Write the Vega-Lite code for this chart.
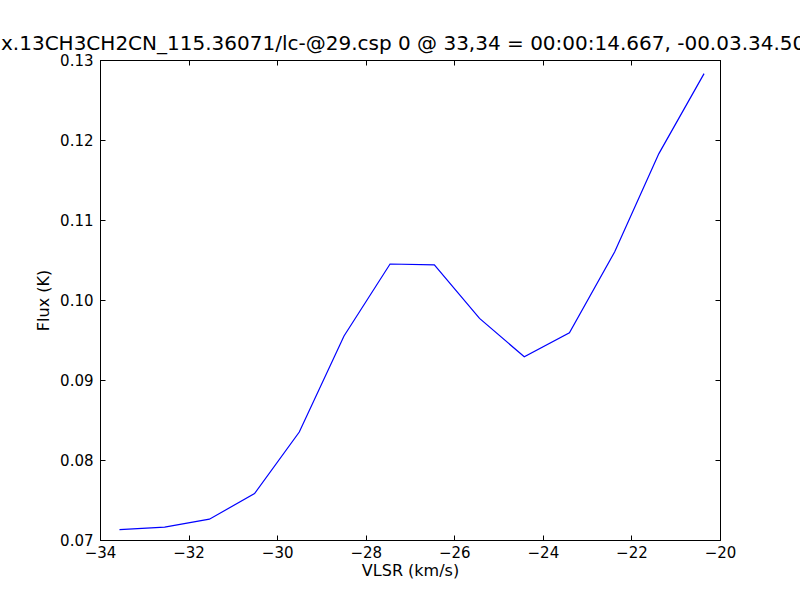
{
  "$schema": "https://vega.github.io/schema/vega-lite/v6.json",
  "width": 620,
  "height": 480,
  "autosize": {"type": "none"},
  "padding": {"left": 100, "top": 60, "right": 80, "bottom": 60},
  "background": "white",
  "config": {
    "font": "DejaVu Sans",
    "view": {"stroke": "black", "strokeWidth": 1},
    "axis": {
      "grid": false,
      "domainColor": "black",
      "tickColor": "black",
      "labelColor": "black",
      "titleColor": "black",
      "labelFont": "DejaVu Sans",
      "titleFont": "DejaVu Sans",
      "labelFontSize": 15,
      "titleFontSize": 16,
      "titleFontWeight": "normal",
      "tickSize": -5
    }
  },
  "title": {
    "text": "x.13CH3CH2CN_115.36071/lc-@29.csp 0 @ 33,34 = 00:00:14.667, -00.03.34.50",
    "anchor": "start",
    "frame": "group",
    "dx": -99,
    "fontSize": 20,
    "fontWeight": "normal",
    "font": "DejaVu Sans",
    "color": "black",
    "offset": -1
  },
  "data": {
    "values": [
      {"v": -33.56, "flux": 0.0713},
      {"v": -32.54, "flux": 0.0716},
      {"v": -31.53, "flux": 0.0726},
      {"v": -30.51, "flux": 0.0758},
      {"v": -29.50, "flux": 0.0835},
      {"v": -28.49, "flux": 0.0955},
      {"v": -27.45, "flux": 0.1045},
      {"v": -26.45, "flux": 0.1044},
      {"v": -25.43, "flux": 0.0977},
      {"v": -24.42, "flux": 0.0929},
      {"v": -23.40, "flux": 0.0959},
      {"v": -22.38, "flux": 0.1060},
      {"v": -21.38, "flux": 0.1183},
      {"v": -20.36, "flux": 0.1283}
    ]
  },
  "layer": [
    {
      "mark": {"type": "line", "color": "#0000ff", "strokeWidth": 1.2},
      "encoding": {
        "x": {
          "field": "v", "type": "quantitative",
          "scale": {"domain": [-34, -20], "nice": false, "zero": false},
          "axis": {"values": [-34, -32, -30, -28, -26, -24, -22, -20], "title": "VLSR (km/s)", "labelPadding": 10, "titlePadding": 2, "labelFlush": false}
        },
        "y": {
          "field": "flux", "type": "quantitative",
          "scale": {"domain": [0.07, 0.13], "nice": false, "zero": false},
          "axis": {"values": [0.07, 0.08, 0.09, 0.10, 0.11, 0.12, 0.13], "format": ".2f", "title": "Flux (K)", "labelPadding": 12, "titlePadding": 8, "labelFlush": false}
        }
      }
    },
    {
      "mark": {"type": "line", "opacity": 0},
      "encoding": {
        "x": {
          "field": "v", "type": "quantitative",
          "scale": {"domain": [-34, -20], "nice": false, "zero": false},
          "axis": {"orient": "top", "values": [-34, -32, -30, -28, -26, -24, -22, -20], "labels": false, "title": null}
        },
        "y": {
          "field": "flux", "type": "quantitative",
          "scale": {"domain": [0.07, 0.13], "nice": false, "zero": false},
          "axis": {"orient": "right", "values": [0.07, 0.08, 0.09, 0.10, 0.11, 0.12, 0.13], "labels": false, "title": null}
        }
      }
    }
  ],
  "resolve": {"scale": {"x": "independent", "y": "independent"}}
}
